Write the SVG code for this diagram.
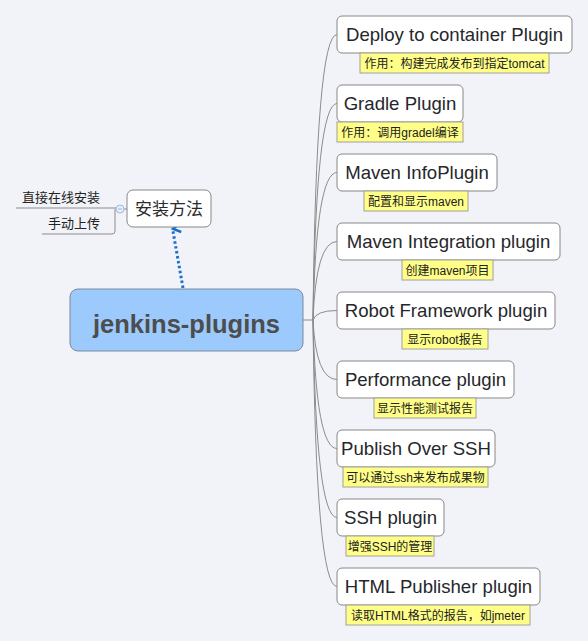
<svg xmlns="http://www.w3.org/2000/svg" width="588" height="641" viewBox="0 0 588 641">
<defs>
<style>
.bg{fill:#f2f3f8}
.node{fill:#ffffff;stroke:#888888;stroke-width:1}
.nt{font-family:"Liberation Sans","Noto Sans CJK SC",sans-serif;font-size:18.6px;fill:#26272b;text-anchor:middle}
.lab{fill:#ffff88;stroke:#a0a0a0;stroke-width:1}
.lt{font-family:"Liberation Sans","Noto Sans CJK SC",sans-serif;font-size:12px;fill:#222222;text-anchor:middle}
.conn{fill:none;stroke:#8c8c8c;stroke-width:1}
.sub{font-family:"Noto Sans CJK SC",sans-serif;font-size:13px;fill:#222222;text-anchor:end}
</style>
<marker id="arr" viewBox="0 0 12 12" refX="6" refY="1.5" markerWidth="12" markerHeight="12" markerUnits="userSpaceOnUse" orient="auto-start-reverse">
<path d="M1.5,9.5 L6,2 L10.5,9.5" fill="none" stroke="#1a6fd0" stroke-width="2.6" stroke-linejoin="miter"/>
</marker>
</defs>
<rect class="bg" x="0" y="0" width="588" height="641"/>
<g id="connectors">
<path class="conn" d="M303,320 L313,320"/>
<path class="conn" d="M313,320 Q316,34.5 337,34.5"/>
<path class="conn" d="M313,320 Q316,103.5 337,103.5"/>
<path class="conn" d="M313,320 Q316,172.5 337,172.5"/>
<path class="conn" d="M313,320 Q316,241.5 337,241.5"/>
<path class="conn" d="M313,320 Q316,310.5 337,310.5"/>
<path class="conn" d="M313,320 Q316,379.5 337,379.5"/>
<path class="conn" d="M313,320 Q316,448.5 337,448.5"/>
<path class="conn" d="M313,320 Q316,517.5 337,517.5"/>
<path class="conn" d="M313,320 Q316,586.5 337,586.5"/>
<path class="conn" d="M127,209 L124,209"/>
<path class="conn" d="M117,208 L16,208"/>
<path class="conn" d="M115,209 L115,231 Q115,234 112,234 L42,234"/>
<path d="M183,288 L172.6,229" fill="none" stroke="#1a6fd0" stroke-width="3" stroke-dasharray="2.5 2.5" marker-end="url(#arr)"/>
</g>
<g id="collapse">
<circle cx="120" cy="209" r="4" fill="#e8eefa" stroke="#9cb8e6" stroke-width="1"/>
<line x1="118" y1="209" x2="122" y2="209" stroke="#9cb8e6" stroke-width="1"/>
</g>
<g id="root">
<rect x="70" y="289" width="233" height="62" rx="8" fill="#9ccafc" stroke="#7a8a9a" stroke-width="1"/>
<text x="186.5" y="333" font-family="Liberation Sans, sans-serif" font-size="25.5" font-weight="bold" fill="#4d4d4d" text-anchor="middle">jenkins-plugins</text>
</g>
<g id="install">
<rect class="node" x="127" y="190" width="84" height="37" rx="6"/>
<text x="169" y="215" font-family="Noto Sans CJK SC, sans-serif" font-size="17" fill="#2b2b2b" text-anchor="middle">安装方法</text>
</g>
<g id="install-online"><text class="sub" x="100" y="202">直接在线安装</text></g>
<g id="install-manual"><text class="sub" x="100" y="228">手动上传</text></g>
<g id="n1">
<rect class="node" x="337" y="16" width="235" height="37" rx="5"/>
<text class="nt" x="454.5" y="41">Deploy to container Plugin</text>
<rect class="lab" x="360" y="53" width="189" height="20"/>
<text class="lt" x="454.5" y="68">作用：构建完成发布到指定tomcat</text>
</g>
<g id="n2">
<rect class="node" x="337" y="85" width="126" height="37" rx="5"/>
<text class="nt" x="400" y="110">Gradle Plugin</text>
<rect class="lab" x="337" y="122" width="126" height="20"/>
<text class="lt" x="400" y="137">作用：调用gradel编译</text>
</g>
<g id="n3">
<rect class="node" x="337" y="154" width="160" height="37" rx="5"/>
<text class="nt" x="417" y="179">Maven InfoPlugin</text>
<rect class="lab" x="364" y="191" width="104" height="20"/>
<text class="lt" x="416" y="206">配置和显示maven</text>
</g>
<g id="n4">
<rect class="node" x="337" y="223" width="223" height="37" rx="5"/>
<text class="nt" x="448.5" y="248">Maven Integration plugin</text>
<rect class="lab" x="402" y="260" width="91" height="20"/>
<text class="lt" x="447.5" y="275">创建maven项目</text>
</g>
<g id="n5">
<rect class="node" x="337" y="292" width="218" height="37" rx="5"/>
<text class="nt" x="446" y="317">Robot Framework plugin</text>
<rect class="lab" x="402" y="329" width="86" height="20"/>
<text class="lt" x="445" y="344">显示robot报告</text>
</g>
<g id="n6">
<rect class="node" x="337" y="361" width="177" height="37" rx="5"/>
<text class="nt" x="425.5" y="386">Performance plugin</text>
<rect class="lab" x="374" y="398" width="102" height="20"/>
<text class="lt" x="425" y="413">显示性能测试报告</text>
</g>
<g id="n7">
<rect class="node" x="337" y="430" width="158" height="37" rx="5"/>
<text class="nt" x="416" y="455">Publish Over SSH</text>
<rect class="lab" x="343" y="467" width="145" height="20"/>
<text class="lt" x="415.5" y="482">可以通过ssh来发布成果物</text>
</g>
<g id="n8">
<rect class="node" x="337" y="499" width="107" height="37" rx="5"/>
<text class="nt" x="390.5" y="524">SSH plugin</text>
<rect class="lab" x="346" y="536" width="88" height="20"/>
<text class="lt" x="390" y="551">增强SSH的管理</text>
</g>
<g id="n9">
<rect class="node" x="337" y="568" width="203" height="37" rx="5"/>
<text class="nt" x="438.5" y="593">HTML Publisher plugin</text>
<rect class="lab" x="346" y="605" width="184" height="20"/>
<text class="lt" x="438" y="620">读取HTML格式的报告，如jmeter</text>
</g>
</svg>
